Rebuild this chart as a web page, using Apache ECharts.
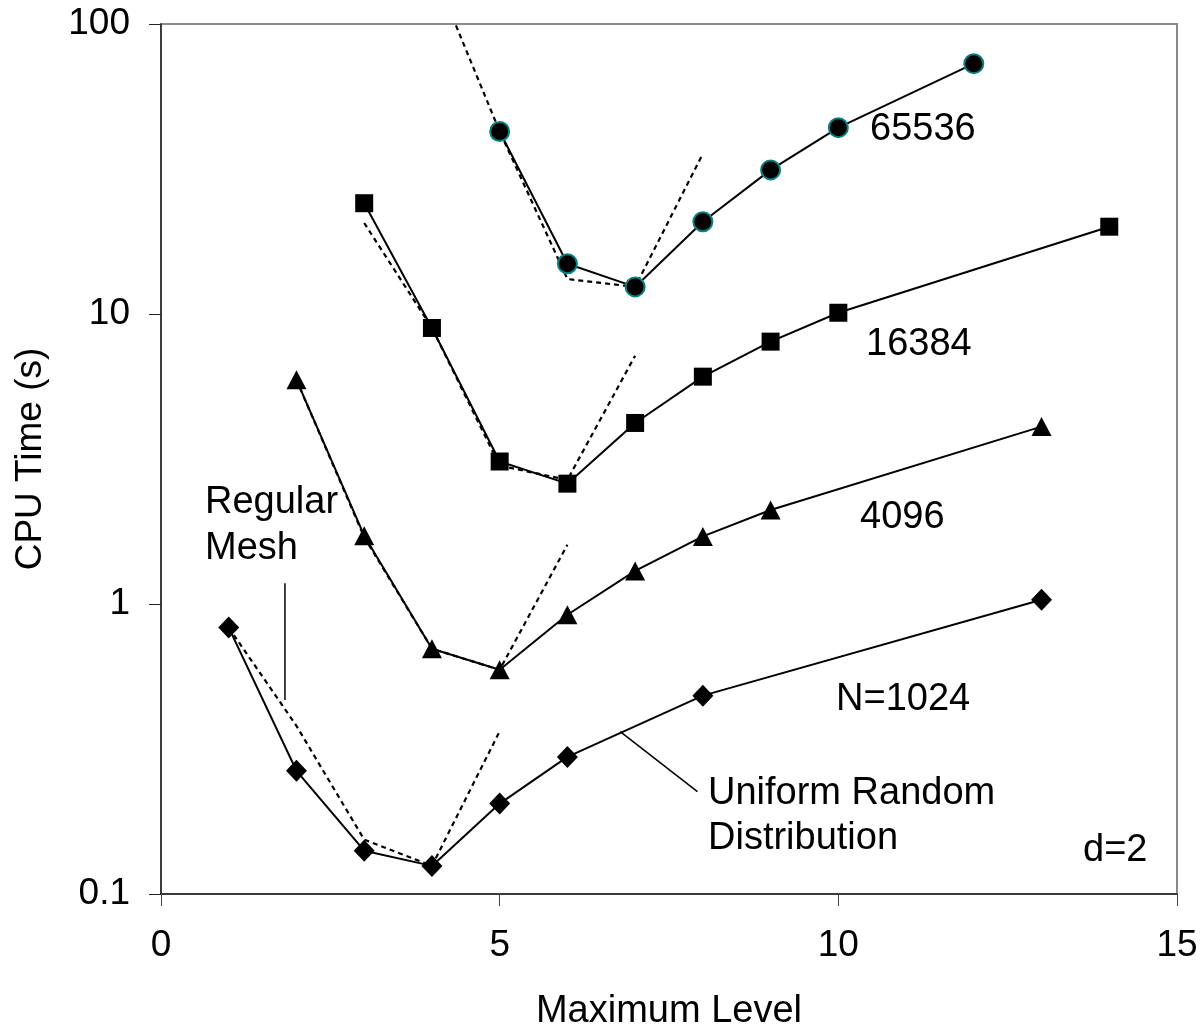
<!DOCTYPE html>
<html>
<head>
<meta charset="utf-8">
<script src="https://cdn.jsdelivr.net/npm/echarts@6/dist/echarts.min.js"></script>
<style>
html,body{margin:0;padding:0;background:#fff;}
#chart{width:1202px;height:1029px;}
</style>
</head>
<body>
<div id="chart"></div>
<script>
// ---- Data ----
const xTicks = [0, 5, 10, 15];
const yTicks = [0.1, 1, 10, 100];

// Uniform random distribution (solid lines with markers)
const x1024 = [1, 2, 3, 4, 5, 6, 8, 13];
const y1024 = [0.829, 0.266, 0.141, 0.125, 0.205, 0.297, 0.483, 1.035];

const x4096 = [2, 3, 4, 5, 6, 7, 8, 9, 13];
const y4096 = [5.93, 1.72, 0.701, 0.593, 0.918, 1.30, 1.71, 2.11, 4.09];

const x16384 = [3, 4, 5, 6, 7, 8, 9, 10, 14];
const y16384 = [24.1, 8.95, 3.10, 2.60, 4.21, 6.08, 8.03, 10.1, 20.0];

const x65536 = [5, 6, 7, 8, 9, 10, 12];
const y65536 = [42.6, 14.9, 12.4, 20.8, 31.4, 43.9, 73.0];

// Regular mesh (dotted lines)
const xMesh1024 = [1, 2, 3, 4, 5];
const yMesh1024 = [0.829, 0.38, 0.154, 0.125, 0.364];

const xMesh4096 = [2, 3, 4, 5, 6];
const yMesh4096 = [5.93, 1.70, 0.701, 0.593, 1.60];

const xMesh16384 = [3, 4, 5, 6, 7];
const yMesh16384 = [20.6, 8.95, 3.0, 2.68, 7.18];

const xMesh65536 = [4, 5, 6, 7, 8];
const yMesh65536 = [157, 42.6, 13.2, 12.4, 35.7];

// Annotation anchor points (data coordinates)
const meshLeader = [[1.83, 1.18], [1.83, 0.467]];
const uniformLeader = [[6.78, 0.363], [7.92, 0.2255]];

const seriesLabels = [
  { text: '65536', x: 870, y: 130 },
  { text: '16384', x: 866, y: 345 },
  { text: '4096', x: 860, y: 518 },
  { text: 'N=1024', x: 836, y: 700 },
  { text: 'd=2', x: 1083, y: 851 },
  { text: 'Regular', x: 205, y: 503 },
  { text: 'Mesh', x: 205, y: 549 },
  { text: 'Uniform Random', x: 708, y: 794 },
  { text: 'Distribution', x: 708, y: 839 }
];

const zip = (xs, ys) => xs.map((x, i) => [x, ys[i]]);
const FONT = 'Liberation Sans, Arial, sans-serif';

const solid = (name, xs, ys, symbol, size, extra) => ({
  name, type: 'line', data: zip(xs, ys), symbol, symbolSize: size,
  lineStyle: { color: '#000', width: 2 },
  itemStyle: Object.assign({ color: '#000' }, extra || {}),
  z: 5, animation: false
});
const dotted = (name, xs, ys) => ({
  name, type: 'line', data: zip(xs, ys), symbol: 'none',
  lineStyle: { color: '#000', width: 2.2, type: [5, 4] },
  z: 3, animation: false, clip: true
});

const chart = echarts.init(document.getElementById('chart'), null, { renderer: 'canvas' });

chart.setOption({
  animation: false,
  backgroundColor: '#fff',
  grid: {
    left: 161, top: 24, right: 25, bottom: 135,
    outerBoundsMode: 'none', containLabel: false,
    show: true, borderColor: '#8a8a8a', borderWidth: 2, backgroundColor: 'transparent'
  },
  xAxis: {
    type: 'value', min: 0, max: 15, interval: 5,
    name: 'Maximum Level', nameLocation: 'middle', nameGap: 99,
    nameTextStyle: { fontFamily: FONT, fontSize: 38, color: '#000' },
    axisLine: { show: true, onZero: false, lineStyle: { color: '#222', width: 1.5 } },
    axisTick: { show: true, length: 12, inside: false, lineStyle: { color: '#444', width: 1 } },
    axisLabel: { fontFamily: FONT, fontSize: 37, color: '#000', margin: 33 },
    splitLine: { show: false }
  },
  yAxis: {
    type: 'log', logBase: 10, min: 0.1, max: 100,
    name: 'CPU Time (s)', nameLocation: 'middle', nameGap: 112, nameRotate: 90,
    nameTextStyle: { fontFamily: FONT, fontSize: 37, color: '#000' },
    axisLine: { show: true, onZero: false, lineStyle: { color: '#222', width: 1.5 } },
    axisTick: { show: true, length: 12, inside: false, lineStyle: { color: '#222', width: 1 } },
    axisLabel: {
      fontFamily: FONT, fontSize: 37, color: '#000', margin: 31,
      formatter: v => {
        const t = yTicks.find(k => Math.abs(k - v) / k < 1e-6);
        return t === undefined ? '' : String(t);
      }
    },
    minorTick: { show: false },
    splitLine: { show: false }
  },
  series: [
    dotted('Mesh 1024', xMesh1024, yMesh1024),
    dotted('Mesh 4096', xMesh4096, yMesh4096),
    dotted('Mesh 16384', xMesh16384, yMesh16384),
    dotted('Mesh 65536', xMesh65536, yMesh65536),
    solid('N=1024', x1024, y1024, 'diamond', [21, 22]),
    solid('4096', x4096, y4096, 'triangle', [20, 19]),
    solid('16384', x16384, y16384, 'rect', 18),
    solid('65536', x65536, y65536, 'circle', 19, { borderColor: '#0a8080', borderWidth: 2 })
  ]
});

const px = p => chart.convertToPixel({ gridIndex: 0 }, p);
const lineEl = (a, b) => {
  const p1 = px(a), p2 = px(b);
  return { type: 'line', shape: { x1: p1[0], y1: p1[1], x2: p2[0], y2: p2[1] },
           style: { stroke: '#000', lineWidth: 1.5 }, z: 10 };
};

const graphics = [
  lineEl(meshLeader[0], meshLeader[1]),
  lineEl(uniformLeader[0], uniformLeader[1])
];
seriesLabels.forEach(l => {
  graphics.push({
    type: 'text', x: l.x, y: l.y, z: 10,
    style: { text: l.text, fontFamily: FONT, fontSize: 38, fill: '#000',
             textAlign: 'left', textVerticalAlign: 'middle' }
  });
});
chart.setOption({ graphic: graphics });
</script>
</body>
</html>
